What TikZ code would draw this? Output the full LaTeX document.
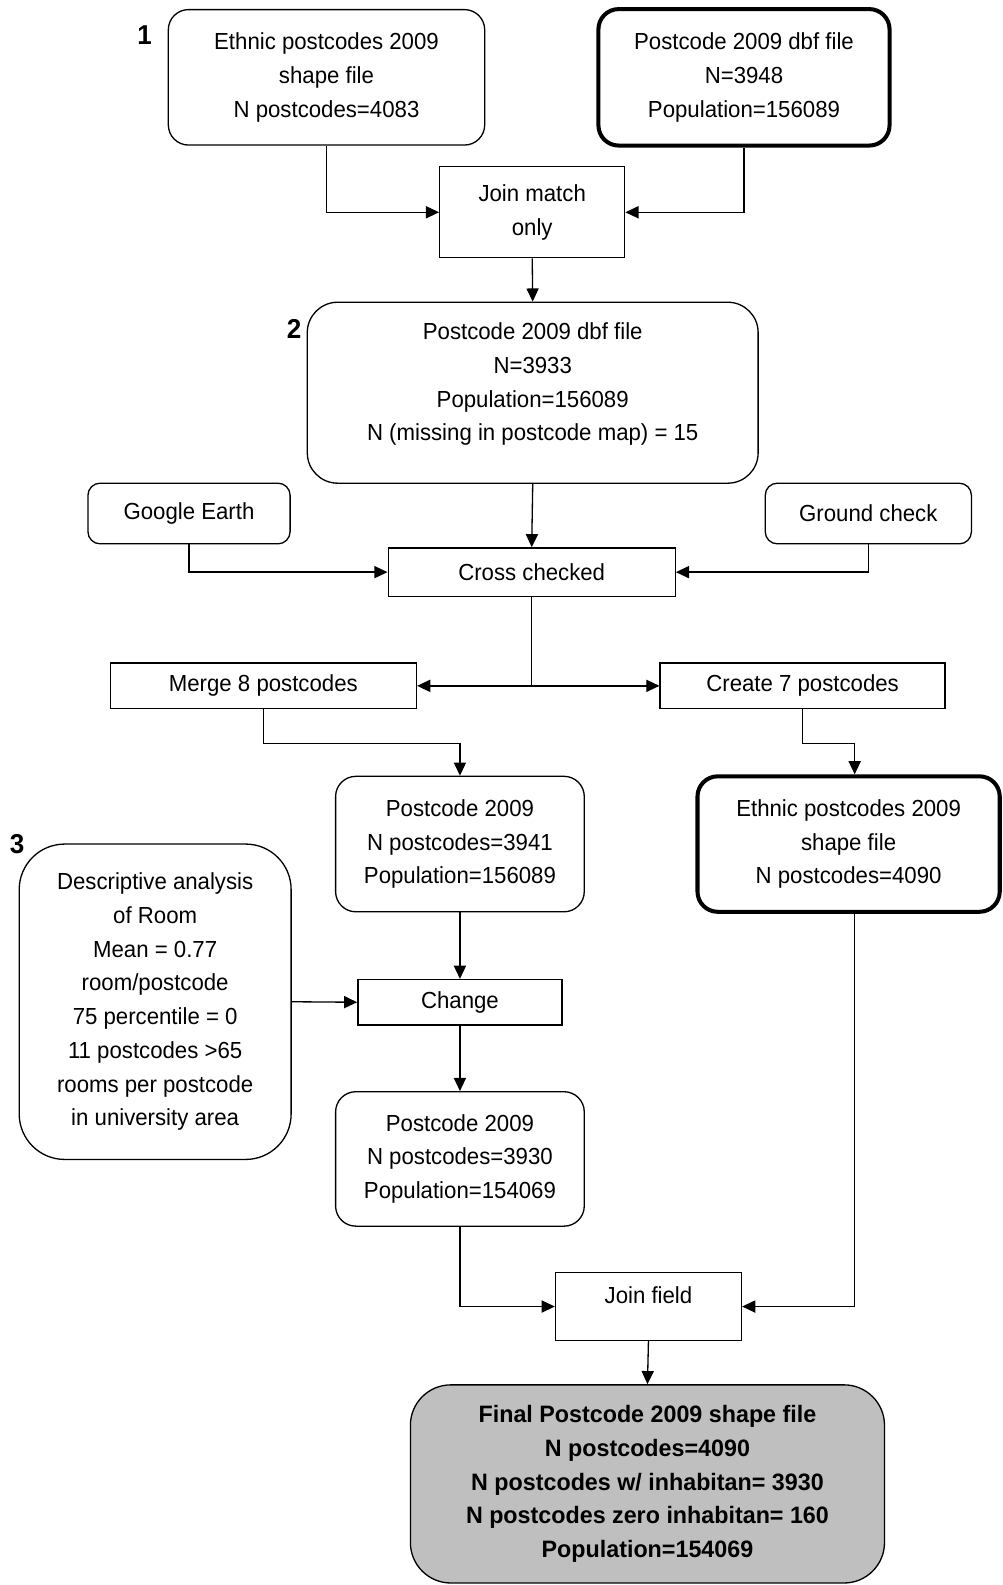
\documentclass[tikz,border=0pt]{standalone}
\usepackage{fontspec}
\setmainfont{Liberation Sans}[FakeStretch=0.955]
\newfontfamily\finalfont{Liberation Sans}[FakeStretch=0.98]
\usetikzlibrary{positioning, arrows.meta, calc}
\tikzset{
  base/.style={draw, line width=1.3pt, align=center, inner sep=0pt, font=\fontsize{23pt}{33.4pt}\selectfont},
  rbox/.style={base, rounded corners=20pt},
  sbox/.style={base},
  thickbox/.style={rbox, line width=4pt},
  finalbox/.style={rbox, rounded corners=40pt, fill=gray!50, font=\finalfont\bfseries\fontsize{23.5pt}{33.4pt}\selectfont},
  numlabel/.style={font=\bfseries\fontsize{27pt}{30pt}\selectfont},
  flow/.style={line width=1.3pt, -{Triangle[length=13pt,width=12pt]}},
}

\begin{document}
\begin{tikzpicture}[x=1pt, y=-1pt]
  \useasboundingbox (0,0) rectangle (992,1568);

  % --- STEP 1 ---
  \node[numlabel] (n1) at (143,35) {1};
  \node[rbox, minimum width=313pt, minimum height=134pt] (eth1) at (323,76.5)
    {Ethnic postcodes 2009\\shape file\\N postcodes=4083};
  \node[thickbox, minimum width=288pt, minimum height=135pt] (dbf1) at (736,76.5)
    {Postcode 2009 dbf file\\N=3948\\Population=156089};
  \node[sbox, minimum width=183pt, minimum height=90pt] (joinm) at (526.5,210)
    {Join match\\only};

  % --- STEP 2 ---
  \node[numlabel] (n2) at (291,325) {2};
  \node[rbox, rounded corners=30pt, minimum width=446pt, minimum height=179pt] (dbf2) at (527,388.5)
    {Postcode 2009 dbf file\\N=3933\\Population=156089\\N (missing in postcode map) = 15\\[-12pt]\mbox{}};
  \node[rbox, rounded corners=12pt, minimum width=200pt, minimum height=60pt] (gearth) at (187,508) {Google Earth};
  \node[rbox, rounded corners=12pt, minimum width=204pt, minimum height=60pt] (ground) at (859,508) {Ground check};
  \node[sbox, minimum width=284pt, minimum height=48pt] (cross) at (526,566) {Cross checked};
  \node[sbox, minimum width=303pt, minimum height=45pt] (merge) at (260.5,678.5) {Merge 8 postcodes};
  \node[sbox, minimum width=282pt, minimum height=45pt] (create) at (794,678.5) {Create 7 postcodes};
  \node[rbox, minimum width=246pt, minimum height=134pt] (pc3941) at (455,835)
    {Postcode 2009\\N postcodes=3941\\Population=156089};
  \node[thickbox, minimum width=299pt, minimum height=134pt] (eth2) at (839.5,835)
    {Ethnic postcodes 2009\\shape file\\N postcodes=4090};

  % --- STEP 3 ---
  \node[numlabel] (n3) at (17,835) {3};
  \node[rbox, rounded corners=45pt, minimum width=269pt, minimum height=312pt] (desc) at (153.5,991)
    {Descriptive analysis\\of Room\\Mean = 0.77\\room/postcode\\75 percentile = 0\\11 postcodes >65\\rooms per postcode\\in university area};
  \node[sbox, minimum width=202pt, minimum height=45pt] (change) at (455,991.5) {Change};
  \node[rbox, minimum width=246pt, minimum height=133pt] (pc3930) at (455,1146.5)
    {Postcode 2009\\N postcodes=3930\\Population=154069};
  \node[sbox, minimum width=184pt, minimum height=67pt] (joinf) at (641.5,1292.5) {Join field\\[-10pt]\mbox{}};
  \node[finalbox, minimum width=469pt, minimum height=196pt] (final) at (640.5,1468)
    {Final Postcode 2009 shape file\\N postcodes=4090\\N postcodes w/ inhabitan= 3930\\N postcodes zero inhabitan= 160\\Population=154069};

  % --- CONNECTORS ---
  \draw[flow] (eth1.south) |- (joinm.west);
  \draw[flow] (dbf1.south) |- (joinm.east);
  \draw[flow] (joinm.south) -- (dbf2.north);
  \draw[flow] (dbf2.south) -- (cross.north);
  \draw[flow] (gearth.south) |- (cross.west);
  \draw[flow] (ground.south) |- (cross.east);
  \coordinate (split) at (cross.south |- merge.east);
  \draw[line width=1.3pt] (cross.south) -- (split);
  \draw[flow] (split) -- (merge.east);
  \draw[flow] (split) -- (create.west);
  \coordinate (e2top) at ([xshift=6pt]eth2.north);
  \coordinate (e2bot) at ([xshift=6pt]eth2.south);
  \draw[flow] (merge.south) -- ++(0,34) -| (pc3941.north);
  \draw[flow] (create.south) -- ++(0,34) -| (e2top);
  \draw[flow] (pc3941.south) -- (change.north);
  \draw[flow] (desc.east) -- (change.west);
  \draw[flow] (change.south) -- (pc3930.north);
  \draw[flow] (pc3930.south) |- (joinf.west);
  \draw[flow] (e2bot) |- (joinf.east);
  \draw[flow] (joinf.south) -- (final.north);
\end{tikzpicture}
\end{document}
